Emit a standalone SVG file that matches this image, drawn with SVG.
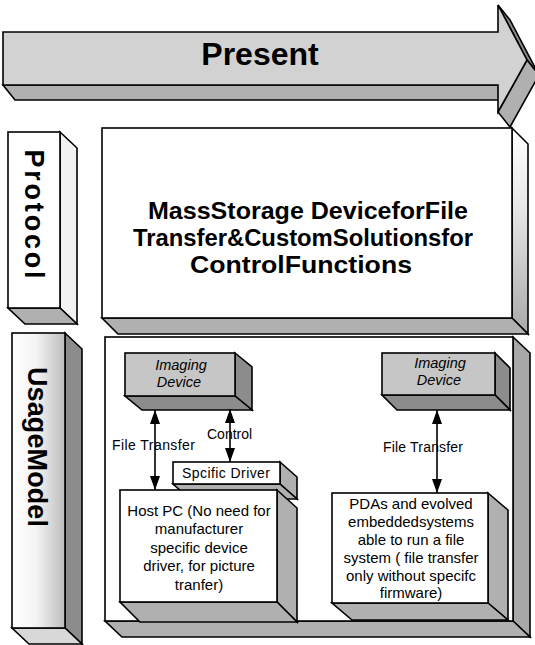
<svg xmlns="http://www.w3.org/2000/svg" width="535" height="645" viewBox="0 0 535 645">
<style>
  .ol { stroke: #000; stroke-width: 1.6; stroke-linejoin: miter; }
  .white { fill: #fff; }
  .lg { fill: #d2d2d2; }
  .mg { fill: #b0b0b0; }
  .dg { fill: #8c8c8c; }
  .big { font-family: "Liberation Sans", Arial, sans-serif; font-weight: bold; fill: #000; }
  .sm { font-family: "Liberation Sans", Arial, sans-serif; font-size: 14px; fill: #000; }
  .box { font-family: "Liberation Sans", Arial, sans-serif; font-size: 15px; fill: #000; text-anchor: middle; }
  .it { font-family: "Liberation Sans", Arial, sans-serif; font-size: 14.5px; font-style: italic; fill: #000; text-anchor: middle; }
  .conn { stroke: #000; stroke-width: 1.6; fill: none; }
</style>
<defs>
  <marker id="ah" viewBox="0 0 14 10" refX="14" refY="5" markerWidth="14" markerHeight="10" markerUnits="userSpaceOnUse" orient="auto-start-reverse">
    <path d="M0,0 L14,5 L0,10 z" fill="#000"/>
  </marker>
  <linearGradient id="usageFront" x1="0" y1="0" x2="1" y2="0">
    <stop offset="0" stop-color="#ffffff"/>
    <stop offset="0.45" stop-color="#f4f4f4"/>
    <stop offset="1" stop-color="#bdbdbd"/>
  </linearGradient>
  <linearGradient id="protoSide" x1="0" y1="0" x2="0" y2="1">
    <stop offset="0" stop-color="#ffffff"/>
    <stop offset="0.4" stop-color="#e6e6e6"/>
    <stop offset="1" stop-color="#a8a8a8"/>
  </linearGradient>
</defs>

<!-- Present arrow -->
<g id="present-arrow">
  <polygon class="mg ol" points="3,85 498,85 510,100 15,100"/>
  <polygon class="dg ol" points="498,5 510,20 539,75 527,60"/>
  <polygon class="mg ol" points="527,60 539,75 510,127 498,112"/>
  <polygon class="lg ol" points="3,32 498,32 498,5 527,60 498,112 498,85 3,85"/>
  <text class="big" x="260" y="65" font-size="32" text-anchor="middle">Present</text>
</g>

<!-- Protocol label -->
<g id="protocol-label">
  <polygon class="ol" fill="#f2f2f2" points="60,132 77,148 77,324 60,308"/>
  <polygon class="mg ol" points="8,308 60,308 77,324 25,324"/>
  <rect class="white ol" x="8" y="132" width="52" height="176"/>
  <text class="big" font-size="27" transform="translate(34,214) rotate(90)" x="0" y="9.5" text-anchor="middle" textLength="129" lengthAdjust="spacing">Protocol</text>
</g>

<!-- Protocol content box -->
<g id="protocol-box">
  <polygon class="ol" fill="url(#protoSide)" points="512,128 528,144 528,334 512,318"/>
  <polygon class="mg ol" points="102,318 512,318 528,334 118,334"/>
  <rect class="white ol" x="102" y="128" width="410" height="190"/>
  <text class="big" font-size="23.5" x="308" y="219" text-anchor="middle" textLength="320" lengthAdjust="spacingAndGlyphs">MassStorage DeviceforFile</text>
  <text class="big" font-size="23.5" x="303" y="246" text-anchor="middle" textLength="340" lengthAdjust="spacingAndGlyphs">Transfer&amp;CustomSolutionsfor</text>
  <text class="big" font-size="23.5" x="301" y="273" text-anchor="middle" textLength="222" lengthAdjust="spacingAndGlyphs">ControlFunctions</text>
</g>

<!-- Usage Model label -->
<g id="usage-label">
  <polygon class="dg ol" points="65,333 82,349 82,644 65,628"/>
  <polygon class="ol" fill="#d8d8d8" points="12,628 65,628 82,644 29,644"/>
  <rect class="ol" fill="url(#usageFront)" x="12" y="333" width="53" height="295"/>
  <text class="big" font-size="27" transform="translate(37,447) rotate(90)" x="0" y="9.5" text-anchor="middle" textLength="160" lengthAdjust="spacing">UsageModel</text>
</g>

<!-- Usage Model content box -->
<g id="usage-box">
  <polygon class="ol" fill="#a8a8a8" points="513,337 530,353 530,637 513,621"/>
  <polygon class="mg ol" points="105,621 513,621 530,637 122,637"/>
  <rect class="white ol" x="105" y="337" width="408" height="284"/>
</g>

<g id="imaging-device-1">
  <polygon class="dg ol" points="235,353 252,367 252,410 235,396"/>
  <polygon class="dg ol" points="125,396 235,396 252,410 142,410"/>
  <rect class="ol" fill="#c6c6c6" x="125" y="353" width="110" height="43"/>
  <text class="it" x="181" y="370">Imaging</text>
  <text class="it" x="179" y="387">Device</text>
</g>

<g id="imaging-device-2">
  <polygon class="dg ol" points="495,353 510,368 510,410 495,395"/>
  <polygon class="dg ol" points="382,395 495,395 510,410 397,410"/>
  <rect class="ol" fill="#c6c6c6" x="382" y="353" width="113" height="42"/>
  <text class="it" x="440" y="368">Imaging</text>
  <text class="it" x="439" y="385">Device</text>
</g>

<g id="specific-driver">
  <polygon class="mg ol" points="280,462 297,477 297,499 280,484"/>
  <polygon class="mg ol" points="173,484 280,484 297,499 190,499"/>
  <rect class="white ol" x="173" y="462" width="107" height="22"/>
  <text class="sm" x="226" y="478" text-anchor="middle" textLength="88" lengthAdjust="spacing">Spcific Driver</text>
</g>

<g id="host-pc">
  <polygon class="mg ol" points="277,490 297,508 297,622 277,602"/>
  <polygon class="mg ol" points="120,602 277,602 297,622 140,622"/>
  <rect class="white ol" x="120" y="490" width="157" height="112"/>
  <text class="box" x="199" y="516">Host PC (No need for</text>
  <text class="box" x="199" y="534">manufacturer</text>
  <text class="box" x="199" y="553">specific device</text>
  <text class="box" x="199" y="571">driver, for picture</text>
  <text class="box" x="199" y="590">tranfer)</text>
</g>

<g id="pda">
  <polygon class="mg ol" points="488,493 508,510 508,620 488,603"/>
  <polygon class="mg ol" points="332,603 488,603 508,620 352,620"/>
  <rect class="white ol" x="332" y="493" width="156" height="110"/>
  <text class="box" x="411" y="509">PDAs and evolved</text>
  <text class="box" x="411" y="527">embeddedsystems</text>
  <text class="box" x="411" y="545">able to run a file</text>
  <text class="box" x="411" y="563">system ( file transfer</text>
  <text class="box" x="411" y="581">only without specifc</text>
  <text class="box" x="411" y="598">firmware)</text>
</g>

<g id="connectors">
  <line class="conn" x1="155" y1="410" x2="155" y2="490" marker-start="url(#ah)" marker-end="url(#ah)"/>
  <line class="conn" x1="230" y1="409" x2="230" y2="462" marker-start="url(#ah)" marker-end="url(#ah)"/>
  <line class="conn" x1="437" y1="410" x2="437" y2="493" marker-start="url(#ah)" marker-end="url(#ah)"/>
  <text class="sm" x="112" y="450" textLength="83" lengthAdjust="spacing">File Transfer</text>
  <text class="sm" x="207" y="439">Control</text>
  <text class="sm" x="383" y="452" textLength="80" lengthAdjust="spacing">File Transfer</text>
</g>
</svg>
